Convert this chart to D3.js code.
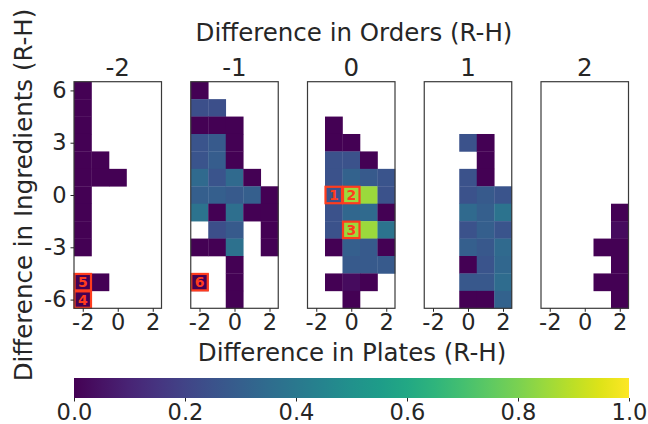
<!DOCTYPE html>
<html>
<head>
<meta charset="utf-8">
<script src="https://cdn.jsdelivr.net/npm/d3@7"></script>
<style>
  body { margin: 0; background: #fff; }
  text { font-family: "DejaVu Sans", sans-serif; fill: #262626; }
</style>
</head>
<body>
<div id="chart"></div>
<script>
// order difference for each panel
let orders = [-2, -1, 0, 1, 2];
let plates = [-2, -1, 0, 1, 2];
let ingredients = [6, 5, 4, 3, 2, 1, 0, -1, -2, -3, -4, -5, -6];
let xTicks = [-2, 0, 2];
let yTicks = [6, 3, 0, -3, -6];
let cbTicks = [0, 0.2, 0.4, 0.6, 0.8, 1.0];

let n = null;
// rows: ingredients 6 .. -6, columns: plates -2 .. 2
let orderM2 = [
  [0, n, n, n, n],
  [0, n, n, n, n],
  [0, n, n, n, n],
  [0, n, n, n, n],
  [0, 0, n, n, n],
  [0, 0, 0, n, n],
  [0, n, n, n, n],
  [0, n, n, n, n],
  [0, n, n, n, n],
  [0, n, n, n, n],
  [n, n, n, n, n],
  [0, 0, n, n, n],
  [0, n, n, n, n]
];
let orderM1 = [
  [0, n, n, n, n],
  [0.24, 0.24, n, n, n],
  [0, 0, 0, n, n],
  [0.26, 0.28, 0, n, n],
  [0.26, 0.29, 0, n, n],
  [0.34, 0.26, 0.34, 0, n],
  [0.3, 0.3, 0.28, 0.3, 0],
  [0.38, 0, 0.36, 0, 0],
  [n, 0.24, 0.28, n, 0],
  [0, 0, 0.37, n, 0],
  [n, n, 0, n, n],
  [0, n, 0, n, n],
  [n, n, 0, n, n]
];
let order0 = [
  [n, n, n, n, n],
  [n, n, n, n, n],
  [n, 0, n, n, n],
  [n, 0, 0, n, n],
  [n, 0.25, 0.25, 0, n],
  [n, 0.25, 0.31, 0.28, 0.26],
  [n, 0.25, 0.85, 0.85, 0.25],
  [n, 0.25, 0.33, 0.34, 0],
  [n, 0.25, 0.85, 0.85, 0.38],
  [n, 0, 0.3, 0.28, 0],
  [n, n, 0.28, 0.28, 0.28],
  [n, 0, 0.03, 0, n],
  [n, n, 0, n, n]
];
let order1 = [
  [n, n, n, n, n],
  [n, n, n, n, n],
  [n, n, n, n, n],
  [n, n, 0.25, 0, n],
  [n, n, n, 0, n],
  [n, n, 0.25, 0, n],
  [n, n, 0.25, 0.28, 0.26],
  [n, n, 0.34, 0.3, 0.38],
  [n, n, 0.25, 0.3, 0.26],
  [n, n, 0.3, 0.27, 0.34],
  [n, n, 0, 0.26, 0.33],
  [n, n, 0.27, 0.27, 0.35],
  [n, n, 0, 0, 0.31]
];
let order2 = [
  [n, n, n, n, n],
  [n, n, n, n, n],
  [n, n, n, n, n],
  [n, n, n, n, n],
  [n, n, n, n, n],
  [n, n, n, n, n],
  [n, n, n, n, n],
  [n, n, n, n, 0],
  [n, n, n, n, 0.03],
  [n, n, n, 0, 0],
  [n, n, n, n, 0],
  [n, n, n, 0, 0],
  [n, n, n, n, 0]
];
let grids = [orderM2, orderM1, order0, order1, order2];

// highlighted cells
let markOrder = [0, 0, 0, -2, -2, -1];
let markPlate = [-1, 0, 0, -2, -2, -2];
let markIngr = [0, 0, -2, -6, -5, -5];
let markLabel = ["1", "2", "3", "4", "5", "6"];

let width = 648;
let height = 424;
let svg = d3.select("#chart").append("svg")
  .attr("width", width)
  .attr("height", height);

let panelLeft = 74;
let panelStep = 116.75;
let panelW = 87.5;
let plotTop = 81.7;
let plotBottom = 308.3;
let redBox = "#ff3c1e";
let intFmt = d => String(d); // plain hyphen minus like matplotlib output

let color = d3.scaleSequential(d3.interpolateViridis).domain([0, 1]);
let y = d3.scaleLinear().domain([-6.5, 6.5]).range([plotBottom, plotTop]);

orders.forEach(function (ord, p) {
  let x0 = panelLeft + p * panelStep;
  let x = d3.scaleLinear().domain([-2.5, 2.5]).range([x0, x0 + panelW]);
  let g = svg.append("g");
  let cellW = x(0.5) - x(-0.5);
  let cellH = y(-0.5) - y(0.5);

  let cells = [];
  grids[p].forEach(function (row, i) {
    row.forEach(function (v, j) {
      if (v !== null) cells.push({ px: plates[j], iy: ingredients[i], v: v });
    });
  });

  g.selectAll("rect.cell")
    .data(cells)
    .join("rect")
    .attr("class", "cell")
    .attr("x", d => x(d.px - 0.5))
    .attr("y", d => y(d.iy + 0.5))
    .attr("width", cellW + 0.3)
    .attr("height", cellH + 0.3)
    .attr("fill", d => color(d.v));

  // markers
  let marks = [];
  for (let k = 0; k < markLabel.length; k++) {
    if (markOrder[k] === ord) marks.push({ px: markPlate[k], iy: markIngr[k], t: markLabel[k] });
  }
  g.selectAll("rect.mark")
    .data(marks)
    .join("rect")
    .attr("class", "mark")
    .attr("x", d => x(d.px - 0.5) + 0.5)
    .attr("y", d => y(d.iy + 0.5) + 0.5)
    .attr("width", cellW - 1)
    .attr("height", cellH - 1)
    .attr("fill", "none")
    .attr("stroke", redBox)
    .attr("stroke-width", 2.2);
  g.selectAll("text.mark")
    .data(marks)
    .join("text")
    .attr("class", "mark")
    .attr("x", d => x(d.px))
    .attr("y", d => y(d.iy) + 5)
    .attr("text-anchor", "middle")
    .style("font-size", "14px")
    .style("font-weight", "bold")
    .style("fill", redBox)
    .text(d => d.t);

  // frame
  g.append("rect")
    .attr("x", x0)
    .attr("y", plotTop)
    .attr("width", panelW)
    .attr("height", plotBottom - plotTop)
    .attr("fill", "none")
    .attr("stroke", "#3a3a3a")
    .attr("stroke-width", 1.2);

  let xAxis = g.append("g")
    .attr("transform", "translate(0," + plotBottom + ")")
    .call(d3.axisBottom(x).tickValues(xTicks).tickSize(3.5).tickPadding(2).tickFormat(intFmt));
  xAxis.select(".domain").remove();
  xAxis.selectAll("text").style("font-size", "22.5px").style("fill", "#262626").attr("font-family", null);
  xAxis.selectAll("line").attr("stroke", "#262626");

  if (p === 0) {
    let yAxis = g.append("g")
      .attr("transform", "translate(" + x0 + ",0)")
      .call(d3.axisLeft(y).tickValues(yTicks).tickSize(3.5).tickPadding(4).tickFormat(intFmt));
    yAxis.select(".domain").remove();
    yAxis.selectAll("text").style("font-size", "22.5px").style("fill", "#262626").attr("font-family", null);
    yAxis.selectAll("line").attr("stroke", "#262626");
  }

  g.append("text")
    .attr("x", x0 + panelW / 2)
    .attr("y", 76)
    .attr("text-anchor", "middle")
    .style("font-size", "24.5px")
    .text(intFmt(ord));
});

svg.append("text")
  .attr("x", 354)
  .attr("y", 41)
  .attr("text-anchor", "middle")
  .style("font-size", "24.5px")
  .text("Difference in Orders (R-H)");

svg.append("text")
  .attr("x", 352)
  .attr("y", 361)
  .attr("text-anchor", "middle")
  .style("font-size", "24.5px")
  .text("Difference in Plates (R-H)");

svg.append("text")
  .attr("transform", "translate(32," + (plotTop + plotBottom) / 2 + ") rotate(-90)")
  .attr("text-anchor", "middle")
  .style("font-size", "24.5px")
  .text("Difference in Ingredients (R-H)");

// colorbar
let cbX0 = 74, cbX1 = 629, cbY = 378, cbH = 20;
let defs = svg.append("defs");
let grad = defs.append("linearGradient").attr("id", "viridis");
d3.range(0, 1.0001, 0.05).forEach(function (t) {
  grad.append("stop").attr("offset", t).attr("stop-color", color(t));
});
svg.append("rect")
  .attr("x", cbX0)
  .attr("y", cbY)
  .attr("width", cbX1 - cbX0)
  .attr("height", cbH)
  .attr("fill", "url(#viridis)");
let cbScale = d3.scaleLinear().domain([0, 1]).range([cbX0, cbX1]);
let cbAxis = svg.append("g")
  .attr("transform", "translate(0," + (cbY + cbH) + ")")
  .call(d3.axisBottom(cbScale).tickValues(cbTicks).tickSize(3.5).tickPadding(2.5).tickFormat(d3.format(".1f")));
cbAxis.select(".domain").remove();
cbAxis.selectAll("text").style("font-size", "22.5px").style("fill", "#262626").attr("font-family", null);
cbAxis.selectAll("line").attr("stroke", "#262626");
</script>
</body>
</html>
